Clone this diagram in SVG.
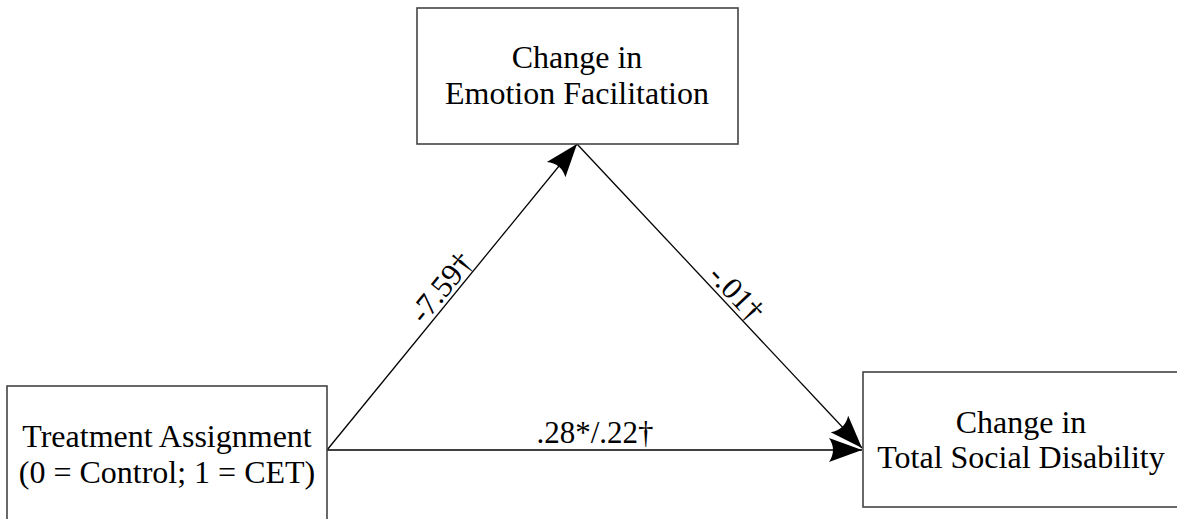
<svg xmlns="http://www.w3.org/2000/svg" width="1177" height="519" viewBox="0 0 1177 519">
<style>
.box{fill:#fff;stroke:#444;stroke-width:1.6}
.t{font-family:'Liberation Serif','Times New Roman',serif;font-size:32px;fill:#000;text-anchor:middle}
.l{font-family:'Liberation Serif','Times New Roman',serif;font-size:31px;fill:#000;text-anchor:middle}
.edge{stroke:#000;stroke-width:1.3;fill:none}
</style>
<defs>
<marker id="arr" markerUnits="userSpaceOnUse" orient="auto" markerWidth="40" markerHeight="30" viewBox="-34 -15 36 30" refX="0" refY="0">
<path d="M0,0 L-33,-12 Q-25,0 -33,12 Z" fill="#000"/>
</marker>
</defs>
<rect width="1177" height="519" fill="#fff"/>
<g id="connectors">
<line class="edge" x1="327" y1="450" x2="577" y2="144" marker-end="url(#arr)"/>
<line class="edge" x1="577" y1="144" x2="862" y2="448" marker-end="url(#arr)"/>
<line class="edge" x1="327" y1="450" x2="862" y2="450" marker-end="url(#arr)"/>
<text class="l" transform="translate(449,294) rotate(-50.75)">-7.59†</text>
<text class="l" transform="translate(729,300) rotate(46.8)">-.01†</text>
<text class="l" x="595" y="443">.28*/.22†</text>
</g>
<g id="node-mediator">
<rect class="box" x="417" y="8" width="321" height="136"/>
<text class="t" x="577" y="68">Change in</text>
<text class="t" x="577" y="104">Emotion Facilitation</text>
</g>
<g id="node-treatment">
<rect class="box" x="7" y="386" width="320" height="140"/>
<text class="t" x="167" y="447">Treatment Assignment</text>
<text class="t" x="167" y="483">(0 = Control; 1 = CET)</text>
</g>
<g id="node-outcome">
<rect class="box" x="863" y="372" width="330" height="135"/>
<text class="t" x="1021" y="433">Change in</text>
<text class="t" x="1021" y="468">Total Social Disability</text>
</g>
</svg>
